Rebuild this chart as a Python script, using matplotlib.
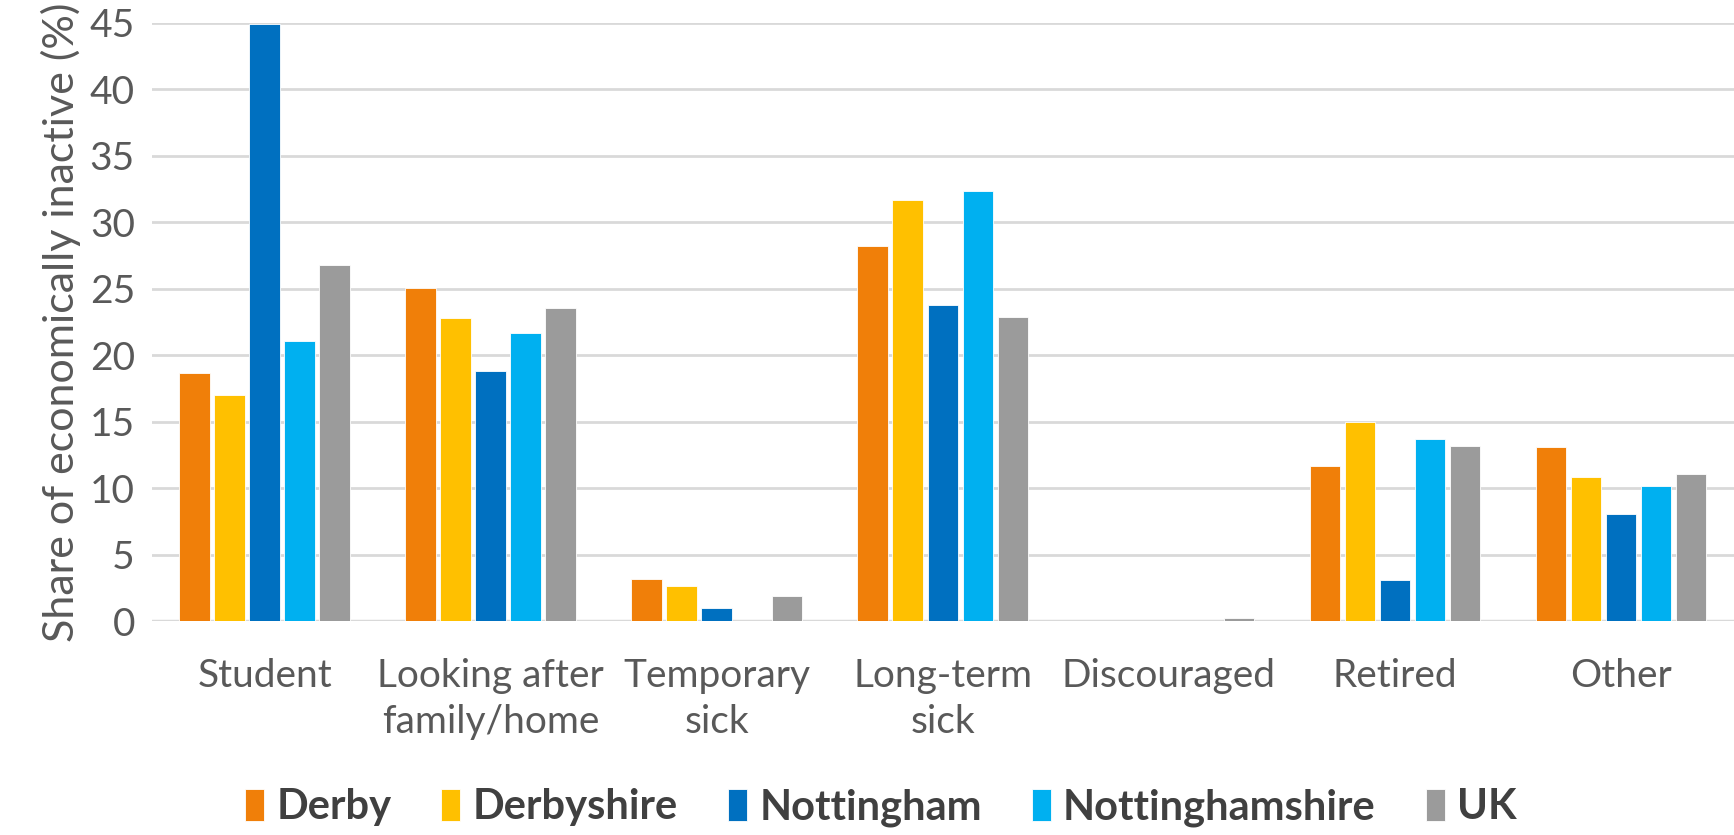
import matplotlib.pyplot as plt
import numpy as np

categories = ["Student", "Looking after\nfamily/home", "Temporary\nsick", "Long-term\nsick",
              "Discouraged", "Retired", "Other"]
series_names = ["Derby", "Derbyshire", "Nottingham", "Nottinghamshire", "UK"]
derby = [18.7, 25.1, 3.2, 28.2, 0.0, 11.7, 13.1]
derbyshire = [17.0, 22.8, 2.7, 31.7, 0.0, 15.0, 10.9]
nottingham = [44.9, 18.8, 1.0, 23.8, 0.0, 3.1, 8.1]
nottinghamshire = [21.1, 21.7, 0.0, 32.4, 0.0, 13.7, 10.2]
uk = [26.8, 23.6, 1.9, 22.9, 0.3, 13.2, 11.1]
colors = ["#F07F09", "#FFC000", "#0070C0", "#00B0F0", "#9B9B9B"]

plt.rcParams['font.family'] = ['Lato', 'DejaVu Sans']

fig = plt.figure(figsize=(17.34, 8.35), dpi=100)
ax = fig.add_axes([0.0874, 0.2557, 0.9126, 0.7168])

x = np.arange(len(categories))
width = 0.135
step = 0.155
all_series = [derby, derbyshire, nottingham, nottinghamshire, uk]
for i, (name, vals) in enumerate(zip(series_names, all_series)):
    ax.bar(x + (i - 2) * step, vals, width, color=colors[i], label=name,
           edgecolor="white", linewidth=0.6, zorder=3)

ax.set_xlim(-0.5, len(categories) - 0.5)
ax.set_ylim(0, 45)
ax.set_yticks(range(0, 46, 5))
ax.yaxis.grid(True, color="#D9D9D9", linewidth=2, zorder=0)
ax.set_axisbelow(True)
for s in ax.spines.values():
    s.set_visible(False)
ax.axhline(0, color="#D9D9D9", linewidth=2.5, zorder=2)

ax.set_xticks(x)
ax.set_xticklabels(categories, fontsize=28, color="#595959", linespacing=1.35)
ax.tick_params(axis="x", length=0, pad=26)
ax.tick_params(axis="y", length=0, labelsize=28, labelcolor="#595959", pad=12)
ax.set_ylabel("Share of economically inactive (%)", fontsize=31, color="#595959", labelpad=6)

leg = fig.legend(loc="lower center", bbox_to_anchor=(0.508, -0.035), ncol=5, frameon=False,
                 prop={"size": 30, "weight": "bold"}, handlelength=0.45, handleheight=0.8,
                 handletextpad=0.3, columnspacing=1.2)
for t in leg.get_texts():
    t.set_color("#404040")

fig.savefig("out.png", dpi=100)
